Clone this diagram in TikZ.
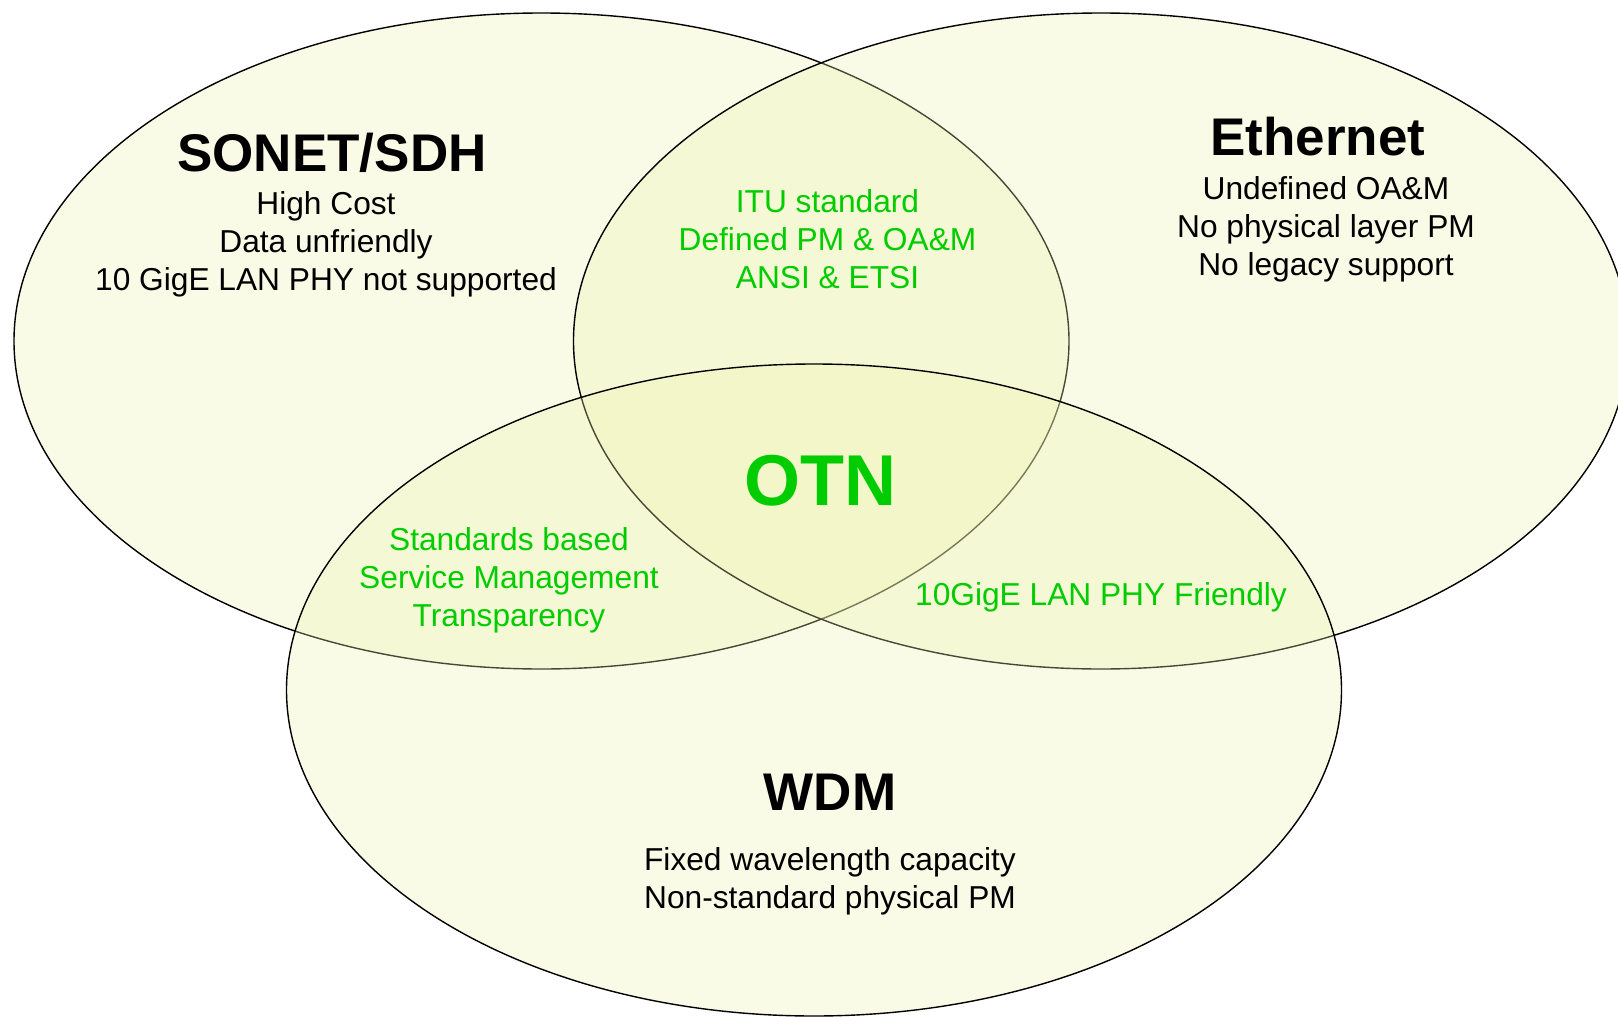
\documentclass[tikz,border=0pt]{standalone}
\usepackage{fontspec}
\setmainfont{Liberation Sans}
\usetikzlibrary{shapes.geometric}
\definecolor{vennfill}{RGB}{235,242,172}
\definecolor{otngreen}{RGB}{0,204,0}
\tikzset{
  venn/.style={ellipse, draw=black, line width=1.4pt, fill=vennfill, fill opacity=0.3, draw opacity=1, inner sep=0pt, minimum width=1055pt, minimum height=656pt},
  body/.style={align=center, inner sep=0pt, font=\fontsize{31.7}{38}\selectfont, text=black},
  gbody/.style={body, text=otngreen},
  title/.style={inner sep=0pt, font=\fontsize{53}{60}\selectfont\bfseries, text=black},
}
\begin{document}
\begin{tikzpicture}[x=1pt,y=-1pt]
\useasboundingbox (0,0) rectangle (1618,1017);
\node[venn] (sonet) at (541.5,341) {};
\node[venn] (eth) at (1101,341) {};
\node[venn, minimum height=652pt] (wdm) at (814,690) {};
\node[title] (tsonet) at (332,153) {SONET/SDH};
\node[body] (bsonet) at (326,244.5) {High Cost\\Data unfriendly\\10 GigE LAN PHY not supported};
\node[title] (teth) at (1318,137) {Ethernet};
\node[body] (beth) at (1326,229) {Undefined OA\&M\\No physical layer PM\\No legacy support};
\node[gbody] (itu) at (827.5,239) {ITU standard\\Defined PM \& OA\&M\\ANSI \& ETSI};
\node[inner sep=0pt, font=\fontsize{72}{80}\selectfont\bfseries, text=otngreen] (otn) at (820,481) {OTN};
\node[gbody] (std) at (509,580.5) {Standards based\\Service Management\\Transparency};
\node[gbody] (lan) at (1101,597) {10GigE LAN PHY Friendly};
\node[title] (twdm) at (830,792.5) {WDM};
\node[body] (bwdm) at (830,881.7) {Fixed wavelength capacity\\Non-standard physical PM};
\end{tikzpicture}
\end{document}
